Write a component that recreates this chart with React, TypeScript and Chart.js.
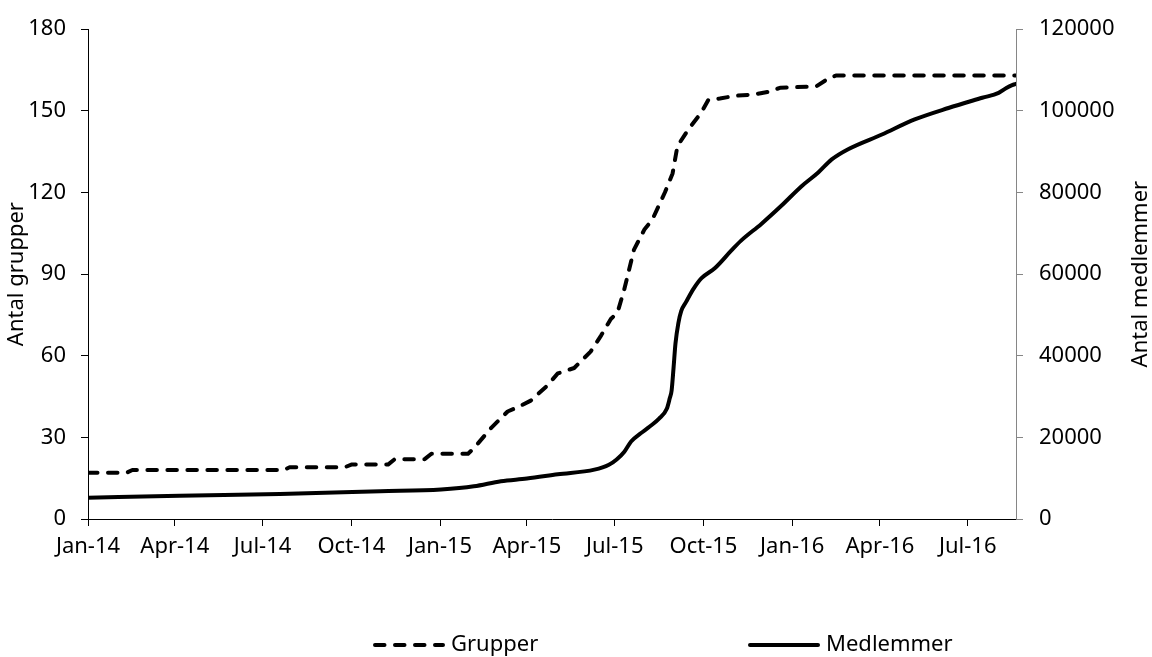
import React, { useEffect, useRef } from "react";
import { Chart, registerables } from "chart.js";

Chart.register(...registerables);

// X axis: days since 1 Jan 2014
const axisMinDay = 0;
const axisMaxDay = 962;
const tickDays = [0, 90, 181, 273, 365, 455, 546, 638, 730, 821, 912];
const tickLabels = ["Jan-14", "Apr-14", "Jul-14", "Oct-14", "Jan-15", "Apr-15", "Jul-15", "Oct-15", "Jan-16", "Apr-16", "Jul-16"];

const seriesNames = ["Grupper", "Medlemmer"];
const axisTitles = ["Antal grupper", "Antal medlemmer"];

const grupperDays = [0, 40, 46, 203, 209, 266, 273, 311, 318, 349, 356, 394, 400, 418, 435, 445, 459, 476, 487, 504, 521, 532, 542, 549, 556, 566, 577, 585, 598, 606, 611, 622, 636, 643, 655, 670, 690, 705, 718, 755, 768, 776, 962];
const grupperValues = [17, 17, 18, 18, 19, 19, 20, 20, 22, 22, 24, 24, 26, 33.5, 39.5, 41, 43.5, 49, 53.5, 55.5, 61.5, 67.5, 73.5, 76, 84.5, 99, 106.5, 110, 120, 127, 137, 143, 149.5, 154, 154.5, 155.5, 156, 157, 158.5, 159, 162, 163, 163];

const medlemmerDays = [0, 95, 199, 303, 366, 400, 428, 455, 487, 525, 540, 548, 556, 563, 573, 582, 592, 600, 603, 605, 607, 609, 612, 615, 620, 628, 636, 650, 667, 677, 698, 719, 740, 757, 771, 788, 823, 857, 892, 927, 944, 952, 958, 962];
const medlemmerValues = [5200, 5700, 6100, 6800, 7250, 8000, 9250, 9900, 10950, 12100, 13300, 14600, 16500, 19000, 21000, 22600, 24600, 27000, 29500, 31500, 37000, 43000, 48000, 51000, 53200, 56500, 59000, 61500, 65800, 68200, 72300, 76800, 81600, 84900, 88100, 90600, 94200, 97900, 100700, 103200, 104400, 105600, 106300, 106600];

const FONT = "'Noto Sans', 'Open Sans', sans-serif";
const FONT_SIZE = 22;

const legendAndTitlePlugin = {
  id: "spacedLegend",
  afterDraw(chart: any, _args: any, opts: any) {
    const ctx = chart.ctx;
    ctx.save();
    ctx.font = `${FONT_SIZE}px ${FONT}`;
    ctx.fillStyle = "#000";
    ctx.textBaseline = "middle";
    chart.data.datasets.forEach((ds: any, i: number) => {
      const x0 = opts.starts[i];
      const y = opts.y;
      ctx.beginPath();
      ctx.setLineDash(ds.borderDash || []);
      ctx.lineWidth = ds.borderWidth;
      ctx.strokeStyle = ds.borderColor;
      ctx.lineCap = ds.borderCapStyle || "butt";
      ctx.moveTo(x0 + 2, y);
      ctx.lineTo(x0 + opts.sample - 2, y);
      ctx.stroke();
      ctx.setLineDash([]);
      ctx.textAlign = "left";
      ctx.fillText(ds.label, x0 + opts.sample + opts.gap, y);
    });
    // right axis title, reading bottom-to-top
    const area = chart.chartArea;
    ctx.translate(opts.rightTitleX, (area.top + area.bottom) / 2);
    ctx.rotate(-Math.PI / 2);
    ctx.textAlign = "center";
    ctx.fillText(opts.rightTitle, 0, 0);
    ctx.restore();
  },
};

export default function App() {
  const canvasRef = useRef<HTMLCanvasElement | null>(null);

  useEffect(() => {
    document.body.style.margin = "0";
    const canvas = canvasRef.current;
    if (!canvas) return;

    const grupperData = grupperDays.map((d, i) => ({ x: d, y: grupperValues[i] }));
    const medlemmerData = medlemmerDays.map((d, i) => ({ x: d, y: medlemmerValues[i] }));

    const chart = new Chart(canvas, {
      type: "line",
      data: {
        datasets: [
          {
            label: seriesNames[0],
            data: grupperData,
            yAxisID: "y",
            borderColor: "#000",
            backgroundColor: "#000",
            borderWidth: 4,
            borderDash: [9.5, 10.5],
            borderCapStyle: "round",
            borderJoinStyle: "round",
            pointRadius: 0,
            tension: 0,
            fill: false,
          },
          {
            label: seriesNames[1],
            data: medlemmerData,
            yAxisID: "y1",
            borderColor: "#000",
            backgroundColor: "#000",
            borderWidth: 4,
            borderCapStyle: "round",
            borderJoinStyle: "round",
            pointRadius: 0,
            cubicInterpolationMode: "monotone",
            fill: false,
          },
        ],
      },
      options: {
        animation: false,
        responsive: true,
        maintainAspectRatio: false,
        layout: { padding: { top: 26, bottom: 78, left: 0, right: 0 } },
        font: { family: FONT, size: FONT_SIZE },
        plugins: {
          legend: { display: false },
          tooltip: { enabled: false },
          spacedLegend: {
            starts: [373, 748],
            sample: 72,
            gap: 6,
            y: 645,
            rightTitle: axisTitles[1],
            rightTitleX: 1141,
          },
        } as any,
        scales: {
          x: {
            type: "linear",
            min: axisMinDay,
            max: axisMaxDay,
            afterBuildTicks: (s: any) => {
              s.ticks = tickDays.map((v) => ({ value: v }));
            },
            afterFit: (s: any) => {
              s.height = 60;
            },
            ticks: {
              autoSkip: false,
              maxRotation: 0,
              minRotation: 0,
              padding: 8,
              color: "#000",
              font: { family: FONT, size: FONT_SIZE },
              callback: (v: any) => {
                const idx = tickDays.indexOf(Number(v));
                return idx >= 0 ? tickLabels[idx] : "";
              },
            },
            grid: { display: true, drawOnChartArea: false, drawTicks: true, tickLength: 7, color: "#000", lineWidth: 1 },
            border: { display: true, color: "#000", width: 1 },
          },
          y: {
            type: "linear",
            position: "left",
            min: 0,
            max: 180,
            afterFit: (s: any) => {
              s.width = 88;
            },
            ticks: {
              stepSize: 30,
              padding: 15,
              color: "#000",
              font: { family: FONT, size: FONT_SIZE },
              callback: (v: any) => String(v),
            },
            grid: { display: true, drawOnChartArea: false, drawTicks: true, tickLength: 7, color: "#000", lineWidth: 1 },
            border: { display: true, color: "#000", width: 1 },
            title: {
              display: true,
              text: axisTitles[0],
              color: "#000",
              font: { family: FONT, size: FONT_SIZE, lineHeight: 1.2 },
              padding: { top: 4, bottom: 0 },
            },
          },
          y1: {
            type: "linear",
            position: "right",
            min: 0,
            max: 120000,
            afterFit: (s: any) => {
              s.width = 136;
            },
            ticks: {
              stepSize: 20000,
              padding: 16,
              color: "#000",
              font: { family: FONT, size: FONT_SIZE },
              callback: (v: any) => String(v),
            },
            grid: { display: true, drawOnChartArea: false, drawTicks: true, tickLength: 7, color: "#868686", lineWidth: 1 },
            border: { display: true, color: "#868686", width: 1 },
            title: { display: false },
          },
        },
      },
      plugins: [legendAndTitlePlugin as any],
    } as any);

    return () => {
      chart.destroy();
    };
  }, []);

  return (
    <div style={{ position: "relative", width: "1152px", height: "657px" }}>
      <canvas ref={canvasRef} />
    </div>
  );
}
